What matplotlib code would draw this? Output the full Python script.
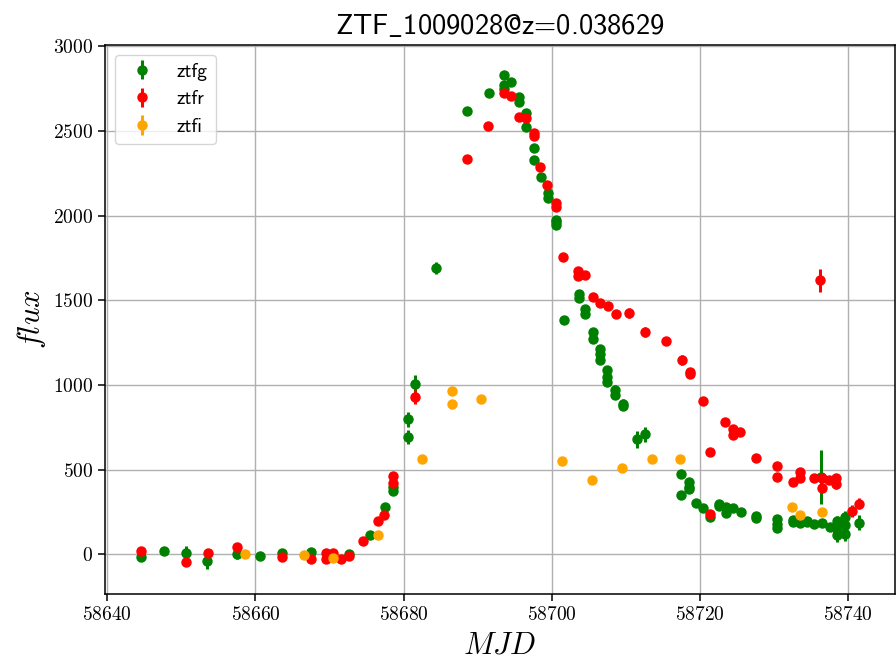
import matplotlib
matplotlib.use("Agg")
import matplotlib.pyplot as plt

plt.rcParams['mathtext.fontset'] = 'cm'
plt.rcParams['axes.formatter.use_mathtext'] = True

# ztfg
g_mjd = [58644.5, 58647.6, 58650.6, 58653.5, 58657.5, 58660.6, 58663.6, 58667.5, 58672.6,
         58675.5, 58677.5, 58678.6, 58678.6, 58680.6, 58680.6, 58681.5, 58684.4,
         58688.5, 58691.5, 58693.5, 58693.5, 58693.5, 58694.5, 58695.5, 58695.5,
         58696.5, 58696.5, 58697.6, 58697.6, 58698.5, 58699.5, 58699.5, 58700.5,
         58700.5, 58700.5, 58701.6, 58703.6, 58703.6, 58704.5, 58704.5, 58705.5,
         58705.5, 58706.5, 58706.5, 58706.5, 58707.5, 58707.5, 58707.5, 58708.5,
         58708.5, 58709.6, 58709.6, 58711.5, 58712.6, 58717.4, 58717.4, 58718.5,
         58718.5, 58718.5, 58719.5, 58720.4, 58721.4, 58722.5, 58722.5, 58723.5,
         58723.5, 58724.5, 58725.5, 58727.5, 58727.5, 58730.4, 58730.4, 58730.4,
         58732.5, 58732.5, 58733.5, 58734.4, 58734.4, 58735.4, 58736.3, 58736.4,
         58737.5, 58738.5, 58738.5, 58738.5, 58739.5, 58739.5, 58739.5, 58741.5]
g_flux = [-14, 19, 10, -40, 0, -10, 6, 12, 2,
          116, 277, 373, 400, 692, 798, 1008, 1690,
          2620, 2725, 2831, 2772, 2750, 2790, 2699, 2670,
          2605, 2526, 2400, 2327, 2231, 2133, 2106, 1976,
          1960, 1946, 1382, 1539, 1516, 1451, 1421, 1313,
          1274, 1215, 1181, 1150, 1091, 1048, 1020, 973,
          939, 890, 875, 680, 709, 472, 350, 428,
          399, 384, 304, 271, 222, 295, 284, 281,
          245, 271, 251, 228, 216, 206, 180, 153,
          192, 200, 186, 198, 190, 179, 455, 186,
          163, 198, 147, 114, 222, 175, 120, 186]
g_err = [15, 25, 40, 45, 30, 15, 15, 20, 15,
         15, 20, 20, 20, 40, 45, 50, 35,
         20, 15, 20, 20, 15, 15, 15, 15,
         15, 15, 15, 15, 15, 15, 15, 15,
         15, 15, 15, 15, 15, 15, 15, 15,
         15, 15, 15, 15, 15, 15, 15, 25,
         20, 25, 20, 50, 45, 15, 20, 15,
         15, 15, 15, 15, 15, 15, 15, 15,
         15, 15, 15, 15, 15, 15, 15, 15,
         15, 15, 15, 15, 15, 15, 160, 15,
         15, 30, 30, 40, 35, 30, 40, 45]

# ztfr
r_mjd = [58644.5, 58650.6, 58653.6, 58657.5, 58663.6, 58667.5, 58669.5, 58669.5, 58670.5,
         58671.5, 58672.6, 58674.5, 58676.6, 58677.4, 58678.6, 58678.6, 58681.5,
         58688.5, 58691.4, 58693.5, 58694.5, 58695.5, 58696.5, 58697.6, 58697.6,
         58698.4, 58699.4, 58700.5, 58700.5, 58701.5, 58703.5, 58703.5, 58704.5,
         58705.5, 58706.5, 58707.6, 58708.6, 58710.4, 58712.5, 58715.4, 58717.5,
         58718.6, 58718.6, 58720.4, 58721.4, 58721.4, 58723.4, 58724.5, 58724.5,
         58725.4, 58727.5, 58730.4, 58730.4, 58732.5, 58733.5, 58733.5, 58735.4,
         58736.2, 58736.4, 58736.4, 58737.4, 58738.4, 58738.4, 58740.5, 58741.4]
r_flux = [21, -45, 6, 43, -18, -26, 6, -30, 10,
          -28, -9, 80, 197, 232, 419, 464, 930,
          2336, 2528, 2723, 2705, 2585, 2575, 2487, 2473,
          2286, 2184, 2074, 2050, 1755, 1673, 1641, 1647,
          1522, 1484, 1469, 1417, 1427, 1313, 1262, 1150,
          1077, 1068, 905, 603, 238, 782, 743, 703,
          720, 568, 519, 458, 425, 487, 448, 452,
          1618, 452, 393, 438, 448, 413, 255, 300]
r_err = [25, 20, 25, 20, 15, 15, 15, 15, 15,
         15, 15, 15, 15, 15, 20, 20, 40,
         15, 15, 15, 15, 15, 15, 15, 15,
         15, 15, 15, 15, 15, 15, 15, 15,
         15, 15, 15, 15, 30, 30, 15, 30,
         15, 15, 15, 15, 15, 15, 15, 15,
         15, 15, 15, 15, 15, 15, 15, 15,
         70, 15, 15, 25, 25, 25, 35, 35]

# ztfi
i_mjd = [58658.6, 58666.5, 58670.5, 58676.5, 58682.5, 58686.5, 58686.5, 58690.4,
         58701.4, 58705.4, 58709.5, 58713.5, 58717.3, 58732.4, 58733.5, 58736.4]
i_flux = [0, -4, -24, 116, 562, 965, 888, 918,
          550, 438, 509, 562, 562, 281, 230, 249]
i_err = [10, 10, 10, 10, 10, 10, 10, 10,
         10, 10, 10, 10, 10, 10, 10, 10]

fig = plt.figure(figsize=(8.96, 6.58), dpi=100)
ax = fig.add_axes([0.1172, 0.0973, 0.8817, 0.8343])

ax.errorbar(g_mjd, g_flux, yerr=g_err, fmt='o', color='green', ms=6.5, elinewidth=2.2, label='ztfg')
ax.errorbar(r_mjd, r_flux, yerr=r_err, fmt='o', color='red', ms=6.5, elinewidth=2.2, label='ztfr')
ax.errorbar(i_mjd, i_flux, yerr=i_err, fmt='o', color='orange', ms=6.5, elinewidth=2.2, label='ztfi')

ax.set_xlim(58639.7, 58746.3)
ax.set_ylim(-234, 3008)
ax.set_xticks([58640, 58660, 58680, 58700, 58720, 58740])
ax.set_yticks([0, 500, 1000, 1500, 2000, 2500, 3000])
ax.grid(True, color='#b0b0b0', linewidth=1.0)
ax.set_axisbelow(True)

for lab in ax.get_xticklabels() + ax.get_yticklabels():
    lab.set_family('cmr10')
    lab.set_fontsize(14)
ax.tick_params(direction='out', length=5, width=1.1, colors='black')
for sp in ax.spines.values():
    sp.set_linewidth(1.1)

ax.set_xlabel(r'$MJD$', fontsize=22, labelpad=5)
ax.set_ylabel(r'$flux$', fontsize=22)
ax.set_title(r'ZTF$\_$1009028@z=0.038629', family=['cmss10', 'DejaVu Sans'], fontsize=20.5, pad=8)

leg = ax.legend(loc='upper left', prop={'family': ['cmss10', 'DejaVu Sans'], 'size': 14})

fig.savefig('out.png', dpi=100)
